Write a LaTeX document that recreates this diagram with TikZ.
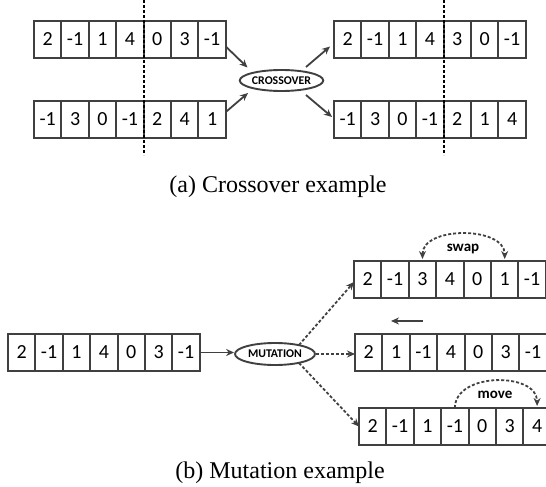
\documentclass[tikz,border=0pt]{standalone}
\usepackage{fontspec}
\setmainfont{Liberation Serif}
\newfontfamily\cellfont{Carlito}
\usetikzlibrary{arrows.meta,shapes.geometric}
\definecolor{linegray}{HTML}{404040}

% one chromosome: name, left x, top y, list of genes
\newcommand\chromosome[4]{%
  \foreach \g [count=\i] in {#4} {
    \node[cell] (#1-\i) at ({#2+27.4*(\i-1)}, #3) {\g};
  }%
}

\begin{document}
\begin{tikzpicture}[x=1pt,y=-1pt,
  cell/.style={draw=linegray, line width=1.9pt, minimum width=27.4pt,
    minimum height=37pt, inner sep=0pt, outer sep=0pt, anchor=north west,
    font=\cellfont\fontsize{20}{20}\selectfont},
  op/.style={ellipse, draw=linegray, line width=1.9pt, inner sep=0pt,
    font=\cellfont\bfseries\fontsize{11.8}{12}\selectfont},
  link/.style={draw=linegray, line width=1.8pt, -{Stealth[length=8pt,width=7pt]}},
  dlink/.style={link, dash pattern=on 3pt off 2pt},
  cut/.style={draw=black, line width=2pt, dash pattern=on 3pt off 2pt},
  caption/.style={font=\fontsize{24}{28}\selectfont, anchor=base, inner sep=0pt},
  tag/.style={font=\cellfont\bfseries\fontsize{15}{16}\selectfont, inner sep=0pt}
]
\useasboundingbox (0,0) rectangle (546,487);

% ---- crossover ----
\chromosome{pa}{34}{21}{2,-1,1,4,0,3,-1}
\chromosome{pb}{34}{101}{-1,3,0,-1,2,4,1}
\chromosome{pc}{334}{21}{2,-1,1,4,3,0,-1}
\chromosome{pd}{334}{101}{-1,3,0,-1,2,1,4}

\coordinate (cutAtop) at (143.6,0);
\coordinate (cutAbot) at (143.6,155);
\coordinate (cutBtop) at (443.6,0);
\coordinate (cutBbot) at (443.6,155);
\draw[cut] (cutAtop) -- (cutAbot);
\draw[cut] (cutBtop) -- (cutBbot);

\node[op, minimum width=77pt, minimum height=21pt] (cx) at (281.5,80.5) {CROSSOVER};

\draw[link] ([yshift=-7pt]pa-7.east) -- ([shift={(-34pt,13pt)}]cx.center);
\draw[link] ([yshift=7.5pt]pb-7.east) -- ([shift={(-33.5pt,-12.5pt)}]cx.center);
\draw[link] ([shift={(24.5pt,13.5pt)}]cx.center) -- ([shift={(-4pt,-7pt)}]pc-1.west);
\draw[link] ([shift={(24.5pt,-14.5pt)}]cx.center) -- ([shift={(-2pt,2.5pt)}]pd-1.west);

\node[caption] (capA) at (278,192) {(a) Crossover example};

% ---- mutation ----
\chromosome{pm}{8}{334}{2,-1,1,4,0,3,-1}
\chromosome{pt}{354}{261}{2,-1,3,4,0,1,-1}
\chromosome{pr}{355}{334}{2,1,-1,4,0,3,-1}
\chromosome{pw}{359}{408}{2,-1,1,-1,0,3,4}

\node[op, minimum width=80pt, minimum height=22pt] (mu) at (275,354) {MUTATION};

\draw[link] (pm-7.east) -- (pm-7.east -| mu.west);
\draw[dlink] ([shift={(24pt,9pt)}]mu.center) -- ([yshift=-2.5pt]pt-1.west);
\draw[dlink] (mu.east) -- (mu.east -| pr-1.west);
\draw[dlink] ([shift={(24pt,-9pt)}]mu.center) -- (pw-1.west);

% swap between genes 3 and 6
\draw[dlink, {Stealth[length=8pt,width=7pt]}-{Stealth[length=8pt,width=7pt]},
  shorten <=2pt, shorten >=2pt]
  (pt-3.north) .. controls +(0,-35) and +(0,-35) .. (pt-6.north);
\node[tag] (swapTag) at (463,249) {swap};

% shift to the left
\coordinate (shiftFrom) at (423,321);
\coordinate (shiftTo) at (391,321);
\draw[link] (shiftFrom) -- (shiftTo);

% move gene 4 to the end
\draw[dlink, shorten >=2pt]
  (pw-4.north) .. controls +(0,-36) and +(0,-36) .. (pw-7.north);
\node[tag] (moveTag) at (495,395) {move};

\node[caption] (capB) at (280,478) {(b) Mutation example};
\end{tikzpicture}
\end{document}
